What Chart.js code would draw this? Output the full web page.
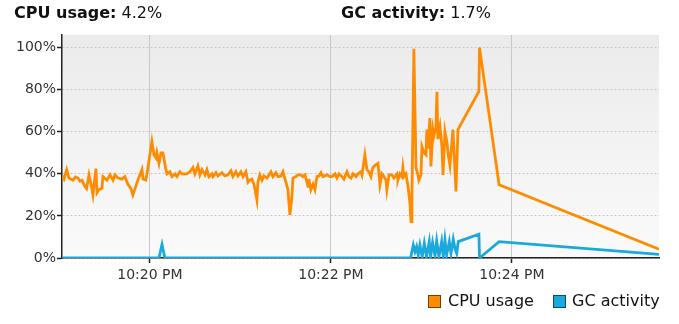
<!DOCTYPE html>
<html>
<head>
<meta charset="utf-8">
<script src="https://cdn.jsdelivr.net/npm/chart.js@4.4.1/dist/chart.umd.min.js"></script>
<style>
  html, body { margin: 0; padding: 0; background: #fff; }
  #wrap { position: relative; width: 679px; height: 324px; font-family: "DejaVu Sans", sans-serif; color: #111; }
  #c { position: absolute; left: 0; top: 0; }
  .t { position: absolute; font-size: 16px; line-height: 16px; white-space: nowrap; }
  .t b { font-weight: bold; }
  .sw { position: absolute; width: 11px; height: 11px; border: 1px solid rgba(0,0,0,0.55); }
</style>
</head>
<body>
<div id="wrap">
  <canvas id="c" width="679" height="324"></canvas>
  <div class="t" id="title1" style="left:14px; top:5px;"></div>
  <div class="t" id="title2" style="left:341px; top:5px;"></div>
  <div class="sw" id="sw1" style="left:428px; top:295px;"></div>
  <div class="t" id="lg1" style="left:448px; top:293px;"></div>
  <div class="sw" id="sw2" style="left:553px; top:295px;"></div>
  <div class="t" id="lg2" style="left:572px; top:293px;"></div>
</div>
<script>
// Time axis: seconds after 10:19:00 PM
const seriesNames = ['CPU usage', 'GC activity'];
const seriesColors = ['#ff8c00', '#1aa9dc'];

const cpuTimes = [1.7,3.0,4.8,6.3,9.0,10.6,12.3,13.6,14.9,16.9,
  18.0,19.6,21.5,22.2,24.2,24.9,26.2,28.2,28.8,31.5,
  33.5,35.5,36.8,38.8,41.4,43.4,45.4,47.4,48.7,50.1,
  52.0,54.7,55.4,57.3,58.7,61.3,62.7,64.0,64.6,66.0,
  67.3,68.6,70.6,71.3,73.3,74.6,76.6,77.9,79.9,81.2,
  82.5,84.5,86.5,88.5,89.8,91.8,93.1,94.5,96.5,97.8,
  99.1,101.1,101.8,103.8,105.1,107.7,109.7,111.7,113.7,115.0,
  117.0,118.3,120.3,121.7,123.6,125.0,126.3,127.6,129.0,130.9,
  131.6,132.9,134.3,135.6,137.6,138.9,140.2,141.5,143.5,144.9,
  146.9,148.2,150.2,151.5,152.8,154.1,154.8,156.8,158.1,160.1,
  161.4,162.8,164.8,165.4,166.7,168.1,169.4,170.7,172.0,173.4,
  174.7,177.3,179.3,180.7,182.7,184.0,185.3,187.3,188.6,190.6,
  191.9,193.3,194.6,196.6,197.9,199.9,200.6,202.5,203.9,205.2,
  206.5,207.8,209.2,211.2,212.5,213.8,215.1,216.5,217.1,218.5,
  220.4,221.8,223.8,224.4,225.7,227.1,227.7,228.4,229.7,231.1,
  232.4,233.1,233.7,235.0,236.4,237.7,238.3,239.7,240.3,241.7,
  243.0,243.6,244.3,245.6,246.3,247.6,248.3,249.6,250.3,250.9,
  252.3,253.6,254.3,255.6,256.9,257.6,258.9,260.2,260.9,262.9,
  264.2,278.1,278.5,291.5,397.5];

const cpuValues = [39,37.5,42,38,37,38.5,38,36.5,37,34,
  33,39.5,33,30,42.5,31,32.5,33,38.7,37,
  39.5,37,39.5,38,37.5,38.7,35,33,30,33,
  37,42,37.5,37,43,55.4,49,47.6,50,45,
  50,50,42,40,41,38.7,40,38.7,41,40,
  40,40,41,43,40,43.8,39.5,42,39.5,42,
  38.7,40,38.7,40.6,39,40.6,39,39.5,41.5,38.7,
  41,39,41,38.7,41,36,37,37.5,35,27.6,
  36,39.5,37,39,38,39.5,41,38.7,40.6,38.7,
  39,41,36,32.4,20.5,29,38,38.7,39.5,39.5,
  38.7,39.5,34,37.5,32.4,35,32.4,38.7,39,40.6,
  38.7,39.5,38.7,38.7,40,38,40,38.7,37.5,41,
  38.7,38,40,38.7,40,41,39.5,49,42,41,
  38.7,43,44,45,34.8,40,38.7,37,32.4,39.5,
  39.5,38,40,37,40,38.7,43,38.7,40,34,
  26,17.3,28,99.5,43,39.5,37,39.5,53,50,
  49,61,52,66.5,43.5,61,58,62,79,56.5,
  62.5,53,39.5,60,55,50,44,55,61,31.6,
  61,79.2,100,34.8,4.2];

const gcTimes = [1.7,66.0,68.0,69.9,232.8,234.6,235.7,236.8,237.9,239.0,
  240.5,241.9,243.4,245.2,246.1,247.4,249.0,250.1,251.6,253.4,
  254.5,255.6,256.7,258.5,259.6,261.1,262.2,263.4,264.4,278.1,
  278.5,291.5,397.5];
const gcValues = [0,0,6.5,0,0,6.2,3,5.4,1.4,6.2,
  0.6,7,0.6,7.8,0.6,7.3,1,8.1,0.6,7.8,
  0.6,8.6,1.4,7.8,2.2,8.9,4.6,2.2,7.8,11.3,
  0,7.8,1.7];

const xTickValues = [60, 180, 300];
const xTickLabels = ['10:20 PM', '10:22 PM', '10:24 PM'];
const yTickValues = [0, 20, 40, 60, 80, 100];

// header and legend text
const lastCpu = cpuValues[cpuValues.length - 1];
const lastGc = gcValues[gcValues.length - 1];
document.getElementById('title1').innerHTML = '<b>' + seriesNames[0] + ':</b> ' + lastCpu.toFixed(1) + '%';
document.getElementById('title2').innerHTML = '<b>' + seriesNames[1] + ':</b> ' + lastGc.toFixed(1) + '%';
document.getElementById('lg1').textContent = seriesNames[0];
document.getElementById('lg2').textContent = seriesNames[1];
document.getElementById('sw1').style.background = seriesColors[0];
document.getElementById('sw2').style.background = seriesColors[1];

const bgPlugin = {
  id: 'bg',
  beforeDraw(chart) {
    const { ctx, chartArea: a } = chart;
    const g = ctx.createLinearGradient(0, a.top, 0, a.bottom);
    g.addColorStop(0, '#ebebeb');
    g.addColorStop(1, '#fafafa');
    ctx.save();
    ctx.fillStyle = g;
    ctx.fillRect(a.left, a.top, a.right - a.left, a.bottom - a.top);
    ctx.restore();
  }
};

const tickFont = { family: 'DejaVu Sans', size: 14 };

new Chart(document.getElementById('c'), {
  type: 'line',
  data: {
    datasets: [
      {
        label: seriesNames[1],
        data: gcTimes.map((t, i) => ({ x: t, y: gcValues[i] })),
        borderColor: seriesColors[1],
        backgroundColor: seriesColors[1],
        borderWidth: 2.8,
        pointRadius: 0,
        tension: 0,
        fill: false,
        order: 0
      },
      {
        label: seriesNames[0],
        data: cpuTimes.map((t, i) => ({ x: t, y: cpuValues[i] })),
        borderColor: seriesColors[0],
        backgroundColor: seriesColors[0],
        borderWidth: 2.8,
        pointRadius: 0,
        tension: 0,
        fill: false,
        order: 1
      }
    ]
  },
  options: {
    responsive: false,
    animation: false,
    devicePixelRatio: 1,
    layout: { padding: { top: 35, right: 20, left: 0, bottom: 0 } },
    plugins: { legend: { display: false }, tooltip: { enabled: false }, title: { display: false } },
    scales: {
      x: {
        type: 'linear',
        min: cpuTimes[0],
        max: cpuTimes[cpuTimes.length - 1],
        afterBuildTicks: s => { s.ticks = xTickValues.map(v => ({ value: v })); },
        afterFit: s => { s.height = 66; },
        ticks: {
          callback: (v, i) => xTickLabels[i],
          font: tickFont, color: '#333', padding: 4, maxRotation: 0, autoSkip: false
        },
        grid: { color: '#c8c8c8', lineWidth: 1, tickColor: '#222', tickLength: 5, tickWidth: 1.5 },
        border: { color: '#222', width: 1.5 }
      },
      y: {
        min: 0,
        max: 106,
        afterBuildTicks: s => { s.ticks = yTickValues.map(v => ({ value: v })); },
        afterFit: s => { s.width = 62; },
        ticks: { callback: v => v + '%', font: tickFont, color: '#333', padding: 1 },
        grid: { color: '#c8c8c8', lineWidth: 1, tickColor: '#222', tickLength: 5, tickWidth: 1.5 },
        border: { color: '#222', width: 1.5, dash: [2, 2] }
      }
    }
  },
  plugins: [bgPlugin]
});
</script>
</body>
</html>
